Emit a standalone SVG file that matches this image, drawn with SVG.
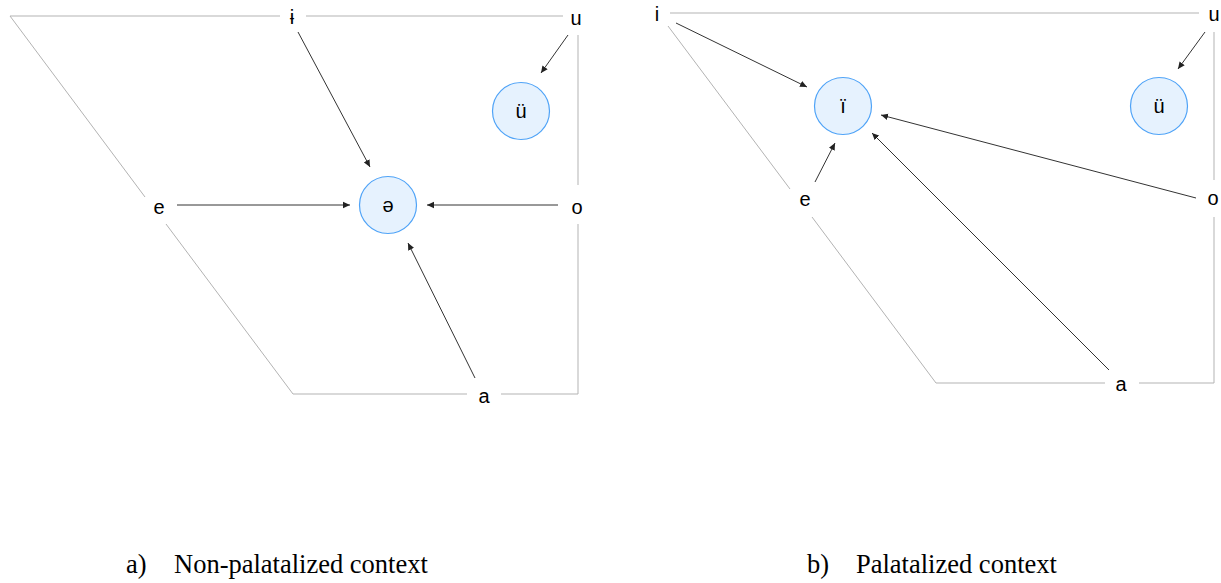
<svg xmlns="http://www.w3.org/2000/svg" width="1221" height="583" viewBox="0 0 1221 583">
<style>
.frame{stroke:#b3b3b3;stroke-width:1;fill:none}
.arr{stroke:#333333;stroke-width:1;fill:none;marker-end:url(#ah)}
.lbl{font-family:"Liberation Sans",Arial,sans-serif;font-size:20px;fill:#000000;text-anchor:middle}
.cap{font-family:"Liberation Serif","Times New Roman",serif;font-size:26.5px;fill:#000000}
.node{fill:#e6f2fe;stroke:#4fa3f7;stroke-width:1.2}
</style>
<defs>
<marker id="ah" markerWidth="8" markerHeight="8" refX="7" refY="4" orient="auto" markerUnits="userSpaceOnUse">
<path d="M0,0.8 L7,4 L0,7.2 z" fill="#222222"/>
</marker>
</defs>
<rect width="1221" height="583" fill="#ffffff"/>
<g id="frame-a">
<path class="frame" d="M10,16 H280 M306,16 H563 M10,16 L145,197 M166,224 L293,394 H467 M501,394 H578 V224 M578,185 V35"/>
</g>
<g id="frame-b">
<path class="frame" d="M670,13 H1199 M668,26 L790,189 M812,217 L936,383 H1105 M1139,383 H1214 V217 M1214,180 V32"/>
</g>
<g id="connectors">
<line class="arr" x1="298" y1="32" x2="370" y2="167"/>
<line class="arr" x1="177" y1="205" x2="350" y2="205"/>
<line class="arr" x1="558" y1="205" x2="427" y2="205"/>
<line class="arr" x1="475" y1="378" x2="408" y2="243"/>
<line class="arr" x1="568" y1="35" x2="541" y2="73"/>
<line class="arr" x1="676" y1="23" x2="807" y2="87"/>
<line class="arr" x1="815" y1="182" x2="835" y2="143"/>
<line class="arr" x1="1109" y1="370" x2="872" y2="133"/>
<line class="arr" x1="1196" y1="198" x2="881" y2="115"/>
<line class="arr" x1="1205" y1="32" x2="1178" y2="69"/>
</g>
<g id="a-i"><text class="lbl" x="292" y="24">ɨ</text></g>
<g id="a-u"><text class="lbl" x="576" y="25">u</text></g>
<g id="a-e"><text class="lbl" x="159" y="214">e</text></g>
<g id="a-o"><text class="lbl" x="577" y="214">o</text></g>
<g id="a-a"><text class="lbl" x="484" y="403">a</text></g>
<g id="a-schwa"><circle class="node" cx="388" cy="205" r="28.5"/><text class="lbl" x="388" y="212">ə</text></g>
<g id="a-uu"><circle class="node" cx="521" cy="111" r="28.5"/><text class="lbl" x="521" y="118">ü</text></g>
<g id="b-i"><text class="lbl" x="657" y="21">i</text></g>
<g id="b-u"><text class="lbl" x="1214" y="21">u</text></g>
<g id="b-e"><text class="lbl" x="805" y="206">e</text></g>
<g id="b-o"><text class="lbl" x="1213" y="205">o</text></g>
<g id="b-a"><text class="lbl" x="1121" y="391">a</text></g>
<g id="b-ii"><circle class="node" cx="843" cy="106" r="28.5"/><text class="lbl" x="843" y="113">ï</text></g>
<g id="b-uu"><circle class="node" cx="1159" cy="106" r="28.5"/><text class="lbl" x="1159" y="113">ü</text></g>
<g id="captions">
<text class="cap" x="126" y="573">a)</text>
<text class="cap" x="174" y="573">Non-palatalized context</text>
<text class="cap" x="807" y="573">b)</text>
<text class="cap" x="856" y="573">Palatalized context</text>
</g>
</svg>
